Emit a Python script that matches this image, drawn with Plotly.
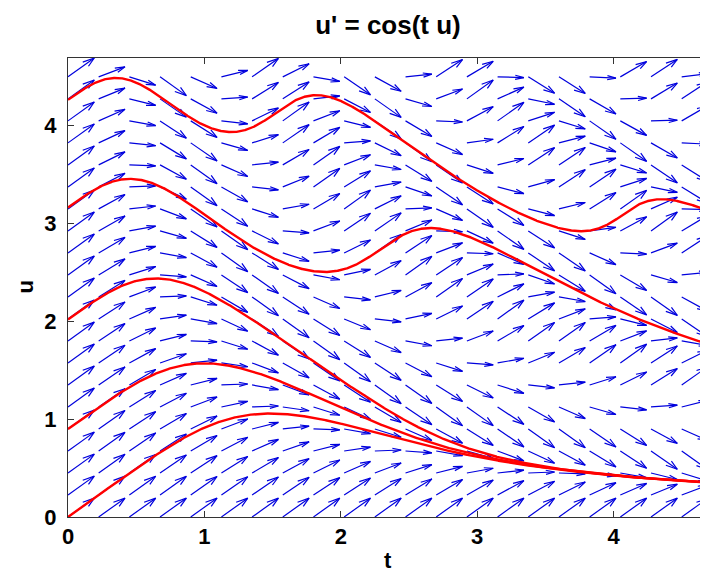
import numpy as np
import plotly.graph_objects as go

# ---- data ----
title_text = "u' = cos(t u)"
grid_t = [0.0, 0.225, 0.45, 0.675, 0.9, 1.125, 1.35, 1.575, 1.8, 2.025, 2.25,
          2.475, 2.7, 2.925, 3.15, 3.375, 3.6, 3.825, 4.05, 4.275, 4.5]
grid_u = [0.0, 0.225, 0.45, 0.675, 0.9, 1.125, 1.35, 1.575, 1.8, 2.025, 2.25,
          2.475, 2.7, 2.925, 3.15, 3.375, 3.6, 3.825, 4.05, 4.275, 4.5]
initial_u = [0.0, 0.90, 2.02, 3.165, 4.265]
tick_vals = [0, 1, 2, 3, 4]
tick_text = ["0", "1", "2", "3", "4"]


def f(t, u):
    return np.cos(t * u)


# ---- quiver (MATLAB-style autoscale, vectors (1, u')) ----
T, U = np.meshgrid(np.array(grid_t), np.array(grid_u))
du = np.ones_like(T)
dv = f(T, U)
n = np.sqrt(T.size)
delx = (T.max() - T.min()) / n
dely = (U.max() - U.min()) / n
length = np.sqrt((du ** 2 + dv ** 2) / (delx ** 2 + dely ** 2))
scale = 0.9 / length.max()
du = du * scale
dv = dv * scale
alpha, beta = 0.33, 0.33

qx, qy = [], []
for x, y, a, b in zip(T.ravel(), U.ravel(), du.ravel(), dv.ravel()):
    qx += [x, x + a, None]
    qy += [y, y + b, None]
    qx += [x + a - alpha * (a + beta * b), x + a, x + a - alpha * (a - beta * b), None]
    qy += [y + b - alpha * (b - beta * a), y + b, y + b - alpha * (b + beta * a), None]

t_end = T.max() + du.max()
u_end = U.max() + dv.max()

fig = go.Figure()
fig.add_trace(go.Scatter(x=qx, y=qy, mode="lines",
                         line=dict(color="#0000dd", width=1.2),
                         hoverinfo="skip", showlegend=False))

# ---- solution curves (RK4) ----
h = 0.002
for u0 in initial_u:
    ts = [0.0]
    us = [u0]
    t, u = 0.0, u0
    while t < t_end:
        k1 = f(t, u)
        k2 = f(t + h / 2, u + h / 2 * k1)
        k3 = f(t + h / 2, u + h / 2 * k2)
        k4 = f(t + h, u + h * k3)
        u = u + h / 6 * (k1 + 2 * k2 + 2 * k3 + k4)
        t = t + h
        ts.append(t)
        us.append(u)
    fig.add_trace(go.Scatter(x=ts, y=us, mode="lines",
                             line=dict(color="#ff0000", width=2.4),
                             hoverinfo="skip", showlegend=False))

font_fam = "Liberation Sans Narrow, Arial Narrow, Liberation Sans, Arial, sans-serif"

# page body adds an 8px offset; figure sized so the plot area lands where the reference has it
W, H = 700, 565
L, TOP, B = 60, 50, 56

fig.update_layout(
    width=W, height=H,
    margin=dict(l=L, r=0, t=TOP, b=B),
    paper_bgcolor="white", plot_bgcolor="white",
    title=dict(text="<b>" + title_text + "</b>", x=380 / W, xanchor="center",
               y=1 - 17 / H, yanchor="middle",
               font=dict(family=font_fam, size=26, color="black")),
    xaxis=dict(range=[0, t_end], showgrid=False, zeroline=False, automargin=False,
               showline=True, linecolor="#333333", linewidth=1, mirror="ticks",
               ticks="inside", ticklen=6, tickcolor="#333333",
               tickvals=tick_vals, ticktext=["<b>%s</b>" % s for s in tick_text],
               tickfont=dict(family=font_fam, size=22, color="black")),
    yaxis=dict(range=[0, u_end], showgrid=False, zeroline=False, automargin=False,
               showline=True, linecolor="#333333", linewidth=1, mirror=False,
               ticks="inside", ticklen=6, tickcolor="#333333", ticklabelstandoff=6,
               tickvals=tick_vals, ticktext=["<b>%s</b>" % s for s in tick_text],
               tickfont=dict(family=font_fam, size=22, color="black")),
    annotations=[
        dict(text="<b>t</b>", x=0.5, xref="paper", y=(509 - 552) / 459, yref="paper",
             showarrow=False, yanchor="middle",
             font=dict(family=font_fam, size=22, color="black")),
        dict(text="<b>u</b>", x=(17 - L) / 640, xref="paper", y=0.5, yref="paper",
             showarrow=False, textangle=-90, xanchor="center", yanchor="middle",
             font=dict(family=font_fam, size=22, color="black")),
    ],
)

fig.write_html("out.html")
